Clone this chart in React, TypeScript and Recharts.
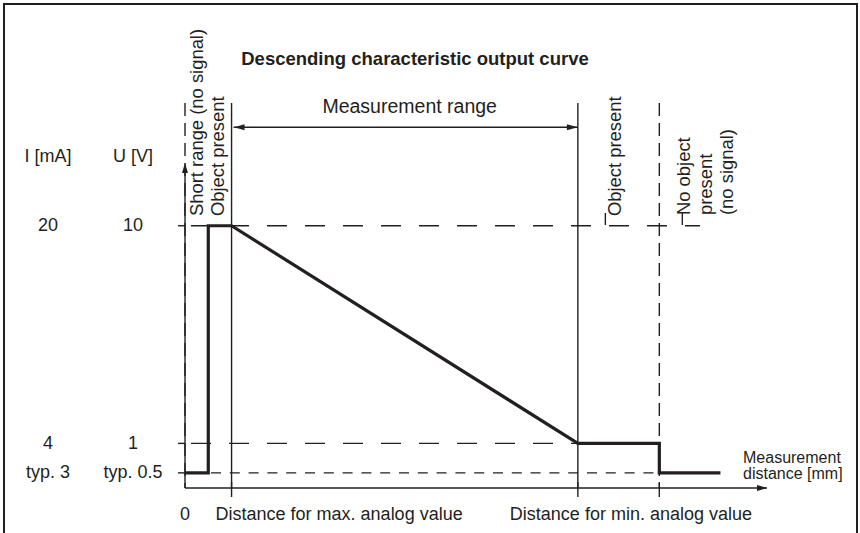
import React from 'react';
import { LineChart, Line, XAxis, YAxis, ReferenceLine, ReferenceDot } from 'recharts';

// ---------- data ----------
// schematic measurement distance (arbitrary units along the x axis, 0..100)
const distOrigin = 0;
const distSignalStart = 4;
const distMaxAnalog = 8;
const distMinAnalog = 67.5;
const distNoSignal = 81.5;
const distCurveEnd = 92;
const distLevelLineEnd = 88.5;
const distAxisEnd = 100;

// descending output curve: distance -> U [V]
const curveDistance = [distOrigin, distSignalStart, distSignalStart, distMaxAnalog, distMinAnalog, distNoSignal, distNoSignal, distCurveEnd];
const curveVoltage = [0.5, 0.5, 10, 10, 1, 1, 0.5, 0.5];

// y axis ticks (U [V]) and matching current labels (I [mA])
const uTicks = [0.5, 1, 10];
const uTickLabels = ['typ. 0.5', '1', '10'];
const iTickLabels = ['typ. 3', '4', '20'];
const uDomain: [number, number] = [0.31, 19.2];

// x axis ticks
const xTicks = [distOrigin, distMaxAnalog, distMinAnalog, distNoSignal];
const xTickLabels = ['0', 'Distance for max. analog value', 'Distance for min. analog value', ''];

const chartData = curveDistance.map((x, i) => ({ x, u: curveVoltage[i] }));

// ---------- styles ----------
const INK = '#231f20';
const FONT = '"Liberation Sans", Arial, Helvetica, sans-serif';
const THIN = 1.4;

const txt = (size = 18, weight: any = 'normal') => ({
  fontFamily: FONT,
  fontSize: size,
  fontWeight: weight,
  fill: INK,
});

const VText = ({ x, y, children }: any) => (
  <text transform={`translate(${x},${y}) rotate(-90)`} {...txt(18.4)}>
    {children}
  </text>
);

const YTick = (props: any) => {
  const { x, y, payload } = props;
  const i = uTicks.indexOf(payload.value);
  if (i < 0) return null;
  return (
    <g>
      <text x={x - 130} y={y + 5.5} textAnchor="middle" {...txt(18)}>
        {iTickLabels[i]}
      </text>
      <text x={x - 45} y={y + 5.5} textAnchor="middle" {...txt(18)}>
        {uTickLabels[i]}
      </text>
    </g>
  );
};

const xTickDx = [0, -16, -68, 0];
const XTick = (props: any) => {
  const { x, y, payload } = props;
  const i = xTicks.indexOf(payload.value);
  if (i < 0) return null;
  return (
    <g>
      {i > 0 && <line x1={x} x2={x} y1={y - 6} y2={y + 9} stroke={INK} strokeWidth={THIN} />}
      {xTickLabels[i] !== '' && (
        <text x={x + xTickDx[i]} y={y + 31.5} textAnchor={i === 0 ? 'middle' : 'start'} {...txt(18)}>
          {xTickLabels[i]}
        </text>
      )}
    </g>
  );
};

const YHeader = (props: any) => {
  const vb = props.viewBox || {};
  const right = (vb.x ?? 125) + (vb.width ?? 60);
  const top = vb.y ?? 103;
  return (
    <g>
      <text x={right - 137} y={top + 59} textAnchor="middle" {...txt(18)}>I [mA]</text>
      <text x={right - 52} y={top + 59} textAnchor="middle" {...txt(18)}>U [V]</text>
    </g>
  );
};

const XHeader = (props: any) => {
  const vb = props.viewBox || {};
  const right = (vb.x ?? 185) + (vb.width ?? 582);
  const axisY = vb.y ?? 488;
  return (
    <text {...txt(16)}>
      <tspan x={right - 24} y={axisY - 24.7}>Measurement</tspan>
      <tspan x={right - 24} y={axisY - 8.7}>distance [mm]</tspan>
    </text>
  );
};

const YAxisArrow = (p: any) => {
  const { x1, y1, y2 } = p;
  const bottom = Math.max(y1, y2);
  const tip = Math.min(y1, y2) + 60;
  return (
    <g>
      <line x1={x1} x2={x1} y1={bottom} y2={tip + 4} stroke={INK} strokeWidth={THIN} />
      <path d={`M${x1},${tip} L${x1 - 3},${tip + 10} L${x1 + 3},${tip + 10} Z`} fill={INK} />
    </g>
  );
};

const XAxisArrowHead = (p: any) => {
  const { cx, cy } = p;
  return <path d={`M${cx},${cy} L${cx - 10},${cy - 3} L${cx - 10},${cy + 3} Z`} fill={INK} />;
};

const RangeArrow = (p: any) => {
  const { x1, x2, y1 } = p;
  const xl = Math.min(x1, x2);
  const xr = Math.max(x1, x2);
  const y = y1 + 24.3;
  return (
    <g>
      <line x1={xl + 2} x2={xr} y1={y} y2={y} stroke={INK} strokeWidth={THIN} />
      <path d={`M${xl + 2.5},${y} L${xl + 13},${y - 3} L${xl + 13},${y + 3} Z`} fill={INK} />
      <path d={`M${xr},${y} L${xr - 11},${y - 3} L${xr - 11},${y + 3} Z`} fill={INK} />
      <text x={(xl + xr) / 2 + 5} y={y - 14} textAnchor="middle" {...txt(19.5)}>
        Measurement range
      </text>
    </g>
  );
};

const ShortRangeLabel = (props: any) => {
  const vb = props.viewBox || {};
  return <VText x={vb.x + 18} y={vb.y + 113}>Short range (no signal)</VText>;
};

const LeftObjectLabel = (props: any) => {
  const vb = props.viewBox || {};
  return <VText x={vb.x - 8} y={vb.y + 113}>Object present</VText>;
};

const RightObjectLabel = (props: any) => {
  const vb = props.viewBox || {};
  return (
    <g>
      <line x1={vb.x + 27.5} x2={vb.x + 27.5} y1={vb.y + 110} y2={vb.y + 122} stroke={INK} strokeWidth={THIN} />
      <VText x={vb.x + 43} y={vb.y + 113}>Object present</VText>
    </g>
  );
};

const NoObjectLabel = (props: any) => {
  const vb = props.viewBox || {};
  return (
    <g>
      <line x1={vb.x + 23} x2={vb.x + 23} y1={vb.y + 110} y2={vb.y + 122} stroke={INK} strokeWidth={THIN} />
      <VText x={vb.x + 31} y={vb.y + 112}>No object</VText>
      <VText x={vb.x + 52.5} y={vb.y + 112}>present</VText>
      <VText x={vb.x + 74} y={vb.y + 112}>(no signal)</VText>
    </g>
  );
};

export default function App() {
  return (
    <div style={{ position: 'absolute', left: 0, top: 0, width: 860, height: 533, background: '#fff', overflow: 'hidden' }}>
      <div
        style={{
          position: 'absolute',
          left: 3,
          top: 3,
          width: 855,
          height: 560,
          boxSizing: 'border-box',
          border: `2px solid ${INK}`,
          borderBottom: 'none',
        }}
      />
      <div
        style={{
          position: 'absolute',
          left: 0,
          top: 50,
          width: 830,
          textAlign: 'center',
          fontFamily: FONT,
          fontSize: 18.5,
          lineHeight: '18px',
          fontWeight: 'bold',
          color: INK,
        }}
      >
        Descending characteristic output curve
      </div>
      <div style={{ position: 'absolute', left: 0, top: 0 }}>
        <LineChart width={860} height={533} data={chartData} margin={{ top: 103, right: 93, bottom: 5, left: 125 }}>
          <XAxis
            dataKey="x"
            type="number"
            domain={[distOrigin, distAxisEnd]}
            allowDataOverflow
            ticks={xTicks}
            interval={0}
            tick={(p: any) => <XTick {...p} />}
            tickLine={false}
            tickSize={0}
            tickMargin={0}
            axisLine={{ stroke: INK, strokeWidth: THIN }}
            height={40}
            label={{ content: (p: any) => <XHeader {...p} /> }}
          />
          <YAxis
            type="number"
            scale="sqrt"
            domain={uDomain}
            allowDataOverflow
            ticks={uTicks}
            interval={0}
            tick={(p: any) => <YTick {...p} />}
            tickSize={7}
            tickMargin={0}
            tickLine={{ stroke: INK, strokeWidth: THIN }}
            axisLine={false}
            width={60}
            label={{ content: (p: any) => <YHeader {...p} /> }}
          />

          {/* horizontal level lines */}
          <ReferenceLine
            segment={[{ x: distOrigin, y: uTicks[2] }, { x: distLevelLineEnd, y: uTicks[2] }]}
            stroke={INK}
            strokeWidth={THIN}
            strokeDasharray="20 18"
            strokeDashoffset={-6}
            ifOverflow="visible"
          />
          <ReferenceLine
            segment={[{ x: distOrigin, y: uTicks[1] }, { x: distMinAnalog, y: uTicks[1] }]}
            stroke={INK}
            strokeWidth={THIN}
            strokeDasharray="20 18"
            strokeDashoffset={-6}
            ifOverflow="visible"
          />
          <ReferenceLine
            segment={[{ x: distOrigin, y: uTicks[0] }, { x: distNoSignal, y: uTicks[0] }]}
            stroke={INK}
            strokeWidth={THIN}
            strokeDasharray="10 8.8"
            strokeDashoffset={-7.2}
            ifOverflow="visible"
          />

          {/* vertical boundaries */}
          <ReferenceLine
            segment={[{ x: distOrigin, y: uDomain[1] }, { x: distOrigin, y: uDomain[0] }]}
            stroke={INK}
            strokeWidth={THIN}
            strokeDasharray="13 7"
            ifOverflow="visible"
            label={{ content: (p: any) => <ShortRangeLabel {...p} /> }}
          />
          <ReferenceLine
            segment={[{ x: distOrigin, y: uDomain[0] }, { x: distOrigin, y: uDomain[1] }]}
            ifOverflow="visible"
            shape={(p: any) => <YAxisArrow {...p} />}
          />
          <ReferenceLine
            segment={[{ x: distMaxAnalog, y: uDomain[1] }, { x: distMaxAnalog, y: uDomain[0] }]}
            stroke={INK}
            strokeWidth={THIN}
            ifOverflow="visible"
            label={{ content: (p: any) => <LeftObjectLabel {...p} /> }}
          />
          <ReferenceLine
            segment={[{ x: distMinAnalog, y: uDomain[1] }, { x: distMinAnalog, y: uDomain[0] }]}
            stroke={INK}
            strokeWidth={THIN}
            ifOverflow="visible"
            label={{ content: (p: any) => <RightObjectLabel {...p} /> }}
          />
          <ReferenceLine
            segment={[{ x: distNoSignal, y: uDomain[1] }, { x: distNoSignal, y: uDomain[0] }]}
            stroke={INK}
            strokeWidth={THIN}
            strokeDasharray="13 7"
            ifOverflow="visible"
            label={{ content: (p: any) => <NoObjectLabel {...p} /> }}
          />

          {/* measurement range arrow */}
          <ReferenceLine
            segment={[{ x: distMaxAnalog, y: uDomain[1] }, { x: distMinAnalog, y: uDomain[1] }]}
            ifOverflow="visible"
            shape={(p: any) => <RangeArrow {...p} />}
          />

          {/* x axis arrow head */}
          <ReferenceDot
            x={distAxisEnd}
            y={uDomain[0]}
            r={0}
            ifOverflow="visible"
            shape={(p: any) => <XAxisArrowHead {...p} />}
          />

          <Line
            type="linear"
            dataKey="u"
            stroke={INK}
            strokeWidth={3.2}
            strokeLinejoin="miter"
            strokeLinecap="butt"
            dot={false}
            activeDot={false}
            isAnimationActive={false}
          />
        </LineChart>
      </div>
    </div>
  );
}
